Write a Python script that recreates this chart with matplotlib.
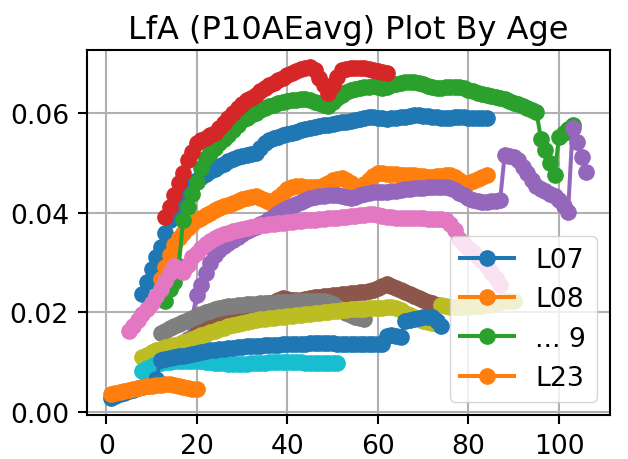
import numpy as np
import matplotlib
matplotlib.use("Agg")
import matplotlib.pyplot as plt

plt.rcParams["font.size"] = 19.2
plt.rcParams["axes.linewidth"] = 1.5
plt.rcParams["xtick.major.size"] = 6.5
plt.rcParams["ytick.major.size"] = 6.5
plt.rcParams["xtick.major.width"] = 1.5
plt.rcParams["ytick.major.width"] = 1.5
plt.rcParams["xtick.major.pad"] = 6.5
plt.rcParams["ytick.major.pad"] = 6.5

# first age of each series, then one value per year of age
l07_start = 8
l07 = [0.0236, 0.0260, 0.0286, 0.0310, 0.0332, 0.0360, 0.0386, 0.0406, 0.0420, 0.0435,
       0.0448, 0.0458, 0.0466, 0.0472, 0.0478, 0.0484, 0.0488, 0.0493, 0.0498, 0.0503,
       0.0508, 0.0512, 0.0514, 0.0516, 0.0518, 0.0520, 0.0530, 0.0540, 0.0545, 0.0550,
       0.0552, 0.0555, 0.0558, 0.0560, 0.0562, 0.0565, 0.0568, 0.0570, 0.0571, 0.0573,
       0.0575, 0.0576, 0.0578, 0.0580, 0.0581, 0.0582, 0.0584, 0.0586, 0.0588, 0.0590,
       0.0592, 0.0591, 0.0590, 0.0589, 0.0588, 0.0589, 0.0590, 0.0591, 0.0592, 0.0594,
       0.0595, 0.0595, 0.0594, 0.0593, 0.0592, 0.0591, 0.0590, 0.0590, 0.0590, 0.0591,
       0.0592, 0.0591, 0.0590, 0.0589, 0.0589, 0.0590, 0.0590]

l08_start = 12
l08 = [0.0266, 0.0290, 0.0315, 0.0335, 0.0350, 0.0360, 0.0370, 0.0378, 0.0385, 0.0390,
       0.0395, 0.0400, 0.0406, 0.0410, 0.0413, 0.0416, 0.0420, 0.0424, 0.0428, 0.0430,
       0.0432, 0.0433, 0.0430, 0.0426, 0.0422, 0.0425, 0.0432, 0.0440, 0.0447, 0.0452,
       0.0453, 0.0453, 0.0452, 0.0452, 0.0452, 0.0452, 0.0455, 0.0460, 0.0465, 0.0468,
       0.0470, 0.0466, 0.0460, 0.0454, 0.0450, 0.0458, 0.0466, 0.0474, 0.0480, 0.0479,
       0.0478, 0.0477, 0.0477, 0.0476, 0.0476, 0.0476, 0.0475, 0.0474, 0.0473, 0.0472,
       0.0472, 0.0473, 0.0474, 0.0476, 0.0476, 0.0472, 0.0466, 0.0460, 0.0460, 0.0463,
       0.0467, 0.0472, 0.0475]

l09_start = 13
l09 = [0.0222, 0.0246, 0.0260, 0.0292, 0.0386, 0.0412, 0.0438, 0.0462, 0.0490, 0.0510,
       0.0520, 0.0530, 0.0540, 0.0548, 0.0555, 0.0565, 0.0575, 0.0585, 0.0590, 0.0595,
       0.0600, 0.0605, 0.0610, 0.0613, 0.0616, 0.0619, 0.0621, 0.0623, 0.0625, 0.0626,
       0.0627, 0.0627, 0.0625, 0.0622, 0.0619, 0.0616, 0.0614, 0.0622, 0.0630, 0.0636,
       0.0642, 0.0646, 0.0648, 0.0650, 0.0652, 0.0652, 0.0653, 0.0652, 0.0650, 0.0652,
       0.0655, 0.0658, 0.0660, 0.0662, 0.0662, 0.0661, 0.0660, 0.0657, 0.0654, 0.0652,
       0.0650, 0.0650, 0.0651, 0.0652, 0.0652, 0.0652, 0.0650, 0.0646, 0.0643, 0.0640,
       0.0638, 0.0636, 0.0634, 0.0632, 0.0630, 0.0627, 0.0624, 0.0620, 0.0617, 0.0613,
       0.0610, 0.0606, 0.0602, 0.0548, 0.0526, 0.0500, 0.0476, 0.0552, 0.0560, 0.0568,
       0.0576]

l10_start = 13
l10 = [0.0392, 0.0412, 0.0436, 0.0460, 0.0480, 0.0505, 0.0522, 0.0540, 0.0545, 0.0550,
       0.0555, 0.0560, 0.0570, 0.0580, 0.0590, 0.0600, 0.0610, 0.0618, 0.0625, 0.0630,
       0.0636, 0.0643, 0.0650, 0.0656, 0.0660, 0.0666, 0.0670, 0.0676, 0.0680, 0.0684,
       0.0688, 0.0690, 0.0692, 0.0685, 0.0670, 0.0655, 0.0640, 0.0655, 0.0672, 0.0685,
       0.0688, 0.0690, 0.0690, 0.0690, 0.0690, 0.0688, 0.0686, 0.0684, 0.0682, 0.0680]

l11_ages = [18] + list(range(20, 107))
l11 = [0.0146, 0.0235, 0.0255, 0.0278, 0.0298, 0.0315, 0.0326, 0.0334, 0.0340, 0.0346,
       0.0352, 0.0358, 0.0363, 0.0367, 0.0372, 0.0377, 0.0382, 0.0388, 0.0394, 0.0400,
       0.0405, 0.0410, 0.0414, 0.0418, 0.0422, 0.0426, 0.0429, 0.0431, 0.0433, 0.0434,
       0.0435, 0.0436, 0.0435, 0.0433, 0.0431, 0.0430, 0.0432, 0.0435, 0.0438, 0.0440,
       0.0441, 0.0442, 0.0442, 0.0442, 0.0443, 0.0444, 0.0446, 0.0447, 0.0448, 0.0449,
       0.0450, 0.0450, 0.0451, 0.0452, 0.0452, 0.0452, 0.0452, 0.0450, 0.0445, 0.0440,
       0.0435, 0.0430, 0.0426, 0.0423, 0.0422, 0.0422, 0.0423, 0.0424, 0.0426, 0.0516,
       0.0514, 0.0512, 0.0505, 0.0492, 0.0480, 0.0466, 0.0454, 0.0448, 0.0443, 0.0438,
       0.0434, 0.0425, 0.0414, 0.0402, 0.0570, 0.0542, 0.0512, 0.0482]

l12_start = 20
l12 = [0.0158, 0.0165, 0.0170, 0.0175, 0.0180, 0.0185, 0.0189, 0.0193, 0.0197, 0.0201,
       0.0205, 0.0208, 0.0211, 0.0213, 0.0215, 0.0217, 0.0219, 0.0221, 0.0224, 0.0228,
       0.0226, 0.0224, 0.0224, 0.0225, 0.0226, 0.0228, 0.0230, 0.0231, 0.0232, 0.0233,
       0.0234, 0.0235, 0.0236, 0.0237, 0.0238, 0.0239, 0.0240, 0.0241, 0.0242, 0.0244,
       0.0248, 0.0252, 0.0256, 0.0253, 0.0249, 0.0245, 0.0241, 0.0237, 0.0233, 0.0229,
       0.0225, 0.0221, 0.0218, 0.0215]

l13_start = 5
l13 = [0.0162, 0.0172, 0.0184, 0.0196, 0.0206, 0.0218, 0.0232, 0.0246, 0.0262, 0.0278,
       0.0292, 0.0286, 0.0280, 0.0295, 0.0310, 0.0320, 0.0330, 0.0338, 0.0344, 0.0349,
       0.0353, 0.0357, 0.0360, 0.0363, 0.0366, 0.0368, 0.0370, 0.0372, 0.0374, 0.0375,
       0.0376, 0.0377, 0.0378, 0.0379, 0.0380, 0.0381, 0.0382, 0.0383, 0.0384, 0.0385,
       0.0386, 0.0386, 0.0387, 0.0388, 0.0389, 0.0390, 0.0390, 0.0391, 0.0392, 0.0393,
       0.0394, 0.0395, 0.0396, 0.0397, 0.0398, 0.0396, 0.0394, 0.0392, 0.0391, 0.0390,
       0.0390, 0.0390, 0.0390, 0.0390, 0.0390, 0.0389, 0.0388, 0.0388, 0.0388, 0.0387,
       0.0385, 0.0378, 0.0365, 0.0348, 0.0338, 0.0330, 0.0322, 0.0312, 0.0302, 0.0292,
       0.0280, 0.0268, 0.0255]

l14_start = 12
l14 = [0.0158, 0.0163, 0.0168, 0.0172, 0.0176, 0.0180, 0.0184, 0.0188, 0.0192, 0.0196,
       0.0200, 0.0203, 0.0206, 0.0208, 0.0210, 0.0212, 0.0213, 0.0214, 0.0215, 0.0216,
       0.0217, 0.0217, 0.0218, 0.0218, 0.0219, 0.0219, 0.0220, 0.0220, 0.0221, 0.0221,
       0.0222, 0.0222, 0.0222, 0.0222, 0.0222, 0.0222, 0.0222, 0.0220, 0.0216, 0.0210,
       0.0204, 0.0198, 0.0194, 0.0190, 0.0188, 0.0187]

l15_start = 8
l15 = [0.0110, 0.0115, 0.0120, 0.0124, 0.0127, 0.0130, 0.0132, 0.0134, 0.0137, 0.0140,
       0.0143, 0.0147, 0.0150, 0.0154, 0.0157, 0.0160, 0.0163, 0.0166, 0.0169, 0.0172,
       0.0175, 0.0177, 0.0179, 0.0181, 0.0183, 0.0185, 0.0186, 0.0187, 0.0188, 0.0189,
       0.0190, 0.0191, 0.0192, 0.0193, 0.0194, 0.0195, 0.0196, 0.0197, 0.0198, 0.0199,
       0.0200, 0.0201, 0.0202, 0.0203, 0.0204, 0.0205, 0.0206, 0.0206, 0.0207, 0.0207,
       0.0208, 0.0208, 0.0209, 0.0209, 0.0210, 0.0210, 0.0208, 0.0204, 0.0199, 0.0194,
       0.0190, 0.0186, 0.0183, 0.0180, 0.0178, 0.0176, 0.0214, 0.0212, 0.0211, 0.0210,
       0.0210, 0.0211, 0.0211, 0.0212, 0.0212, 0.0213, 0.0214, 0.0216, 0.0218, 0.0220,
       0.0222, 0.0222, 0.0222]

l16_start = 8
l16 = [0.0082, 0.0088, 0.0093, 0.0096, 0.0098, 0.0100, 0.0101, 0.0102, 0.0102, 0.0102,
       0.0102, 0.0102, 0.0102, 0.0102, 0.0101, 0.0100, 0.0099, 0.0099, 0.0098, 0.0097,
       0.0097, 0.0096, 0.0096, 0.0097, 0.0098, 0.0098, 0.0099, 0.0099, 0.0100, 0.0100,
       0.0100, 0.0100, 0.0100, 0.0100, 0.0100, 0.0100, 0.0099, 0.0099, 0.0099, 0.0098,
       0.0098, 0.0098, 0.0098, 0.0098]

l17_start = 1
l17 = [0.0028, 0.0032, 0.0036, 0.0039, 0.0042, 0.0045, 0.0048, 0.0050, 0.0052, 0.0054,
       0.0066, 0.0104, 0.0106, 0.0108, 0.0110, 0.0112, 0.0113, 0.0115, 0.0117, 0.0119,
       0.0121, 0.0122, 0.0124, 0.0125, 0.0126, 0.0127, 0.0128, 0.0129, 0.0130, 0.0131,
       0.0132, 0.0132, 0.0133, 0.0133, 0.0134, 0.0134, 0.0135, 0.0135, 0.0136, 0.0136,
       0.0136, 0.0137, 0.0137, 0.0137, 0.0138, 0.0138, 0.0138, 0.0138, 0.0138, 0.0138,
       0.0137, 0.0137, 0.0136, 0.0136, 0.0136, 0.0136, 0.0136, 0.0136, 0.0136, 0.0136,
       0.0136, 0.0152, 0.0154, 0.0152, 0.0150, 0.0182, 0.0184, 0.0186, 0.0188, 0.0190,
       0.0191, 0.0190, 0.0182, 0.0172]

l23_start = 1
l23 = [0.0036, 0.0038, 0.0040, 0.0042, 0.0044, 0.0046, 0.0048, 0.0050, 0.0052, 0.0053,
       0.0054, 0.0055, 0.0056, 0.0056, 0.0055, 0.0053, 0.0050, 0.0048, 0.0047, 0.0046]

series = [
    (list(range(l07_start, l07_start + len(l07))), l07),
    (list(range(l08_start, l08_start + len(l08))), l08),
    (list(range(l09_start, l09_start + len(l09))), l09),
    (list(range(l10_start, l10_start + len(l10))), l10),
    (l11_ages, l11),
    (list(range(l12_start, l12_start + len(l12))), l12),
    (list(range(l13_start, l13_start + len(l13))), l13),
    (list(range(l14_start, l14_start + len(l14))), l14),
    (list(range(l15_start, l15_start + len(l15))), l15),
    (list(range(l16_start, l16_start + len(l16))), l16),
    (list(range(l17_start, l17_start + len(l17))), l17),
    (list(range(l23_start, l23_start + len(l23))), l23),
]

fig, ax = plt.subplots(figsize=(6.28, 4.6), dpi=100)
fig.subplots_adjust(left=0.1385, right=0.9713, top=0.889, bottom=0.0957)

lines = []
for ages, vals in series:
    ln, = ax.plot(ages, vals, marker="o", linewidth=2.9, markersize=11)
    lines.append(ln)

ax.grid(True, color="#b0b0b0", linewidth=1.5)
ax.set_axisbelow(True)
ax.set_title("LfA (P10AEavg) Plot By Age", fontsize=23, pad=9)
ax.legend([lines[0], lines[1], lines[2], lines[-1]],
          ["L07", "L08", "... 9", "L23"], loc="lower right")

fig.savefig("out.png", dpi=100)
